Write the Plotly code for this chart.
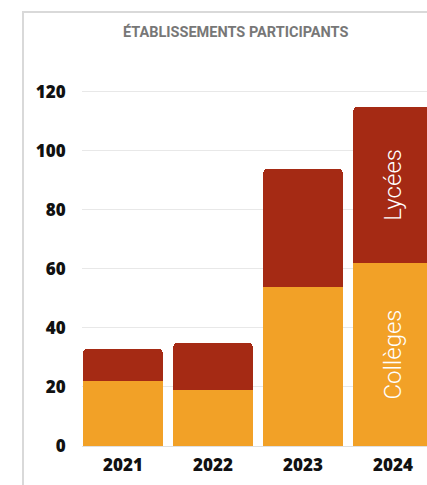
import plotly.graph_objects as go

years = ["2021", "2022", "2023", "2024"]
colleges = [22, 19, 54, 62]
lycees = [11, 16, 40, 53]
college_text = ["", "", "", "Collèges"]
lycee_text = ["", "", "", "Lycées"]
y_ticks = [0, 20, 40, 60, 80, 100, 120]
title = "ÉTABLISSEMENTS PARTICIPANTS"

W, H = 427, 485
L, R, T, B = 82, 0, 89, 485 - 446
pw, ph = W - L - R, H - T - B

def px2x(px):
    return (px - L) / pw

def px2y(py):
    return (H - B - py) / ph

fig = go.Figure()
fig.add_trace(go.Bar(
    x=years, y=colleges, name="Collèges",
    marker=dict(color="#F2A127", line=dict(width=0)),
    text=college_text, textposition="inside", insidetextanchor="middle",
    textangle=-90, constraintext="none",
    textfont=dict(family="Roboto", size=24, color="white", weight=300),
    hoverinfo="skip",
))
fig.add_trace(go.Bar(
    x=years, y=lycees, name="Lycées",
    marker=dict(color="#A52A14", line=dict(width=0)),
    text=lycee_text, textposition="inside", insidetextanchor="middle",
    textangle=-90, constraintext="none",
    textfont=dict(family="Roboto", size=24, color="white", weight=300),
    hoverinfo="skip",
))

fig.update_layout(
    width=W, height=H,
    margin=dict(l=L, r=R, t=T, b=B, pad=0),
    barmode="stack", bargap=1/9, barcornerradius=5,
    showlegend=False,
    paper_bgcolor="white", plot_bgcolor="white",
    xaxis=dict(
        range=[(82 - 123) / 90, (427 - 123) / 90],
        showgrid=False, zeroline=False, showline=False,
        tickfont=dict(family="Open Sans", size=17, color="#111", weight=800),
        ticks="outside", ticklen=4, tickcolor="rgba(0,0,0,0)",
    ),
    yaxis=dict(
        range=[0, 121], tickvals=y_ticks,
        showgrid=True, gridcolor="#e8e8e8", gridwidth=1,
        zeroline=True, zerolinecolor="#e0e0e0", zerolinewidth=1,
        showline=False,
        tickfont=dict(family="Open Sans", size=17, color="#111", weight=800),
        ticks="outside", ticklen=12, tickcolor="rgba(0,0,0,0)",
    ),
    shapes=[dict(
        type="rect", xref="paper", yref="paper",
        x0=px2x(23), x1=px2x(445), y0=px2y(520), y1=px2y(12),
        line=dict(color="#d9d9d9", width=2), fillcolor="rgba(0,0,0,0)",
        layer="below",
    )],
    annotations=[dict(
        text=title, xref="paper", yref="paper",
        x=px2x(235), y=px2y(32), xanchor="center", yanchor="middle",
        showarrow=False,
        font=dict(family="Roboto", size=14.5, color="#777777", weight=700),
    )],
)

fig.write_html(
    "out.html",
    config={"displayModeBar": False, "staticPlot": True},
    post_script="document.body.style.margin='0';document.body.style.overflow='hidden';",
)
